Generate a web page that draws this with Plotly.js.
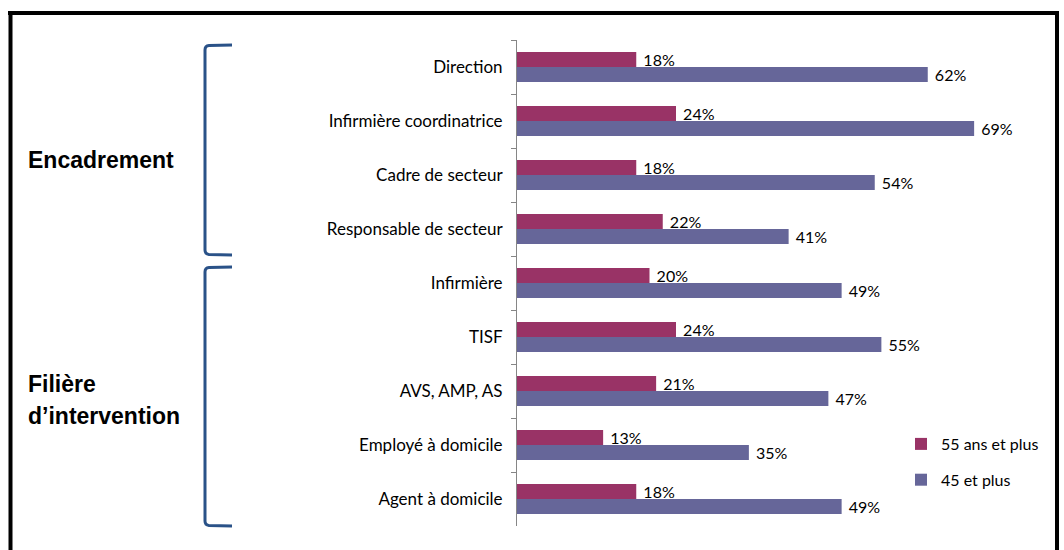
<!DOCTYPE html>
<html>
<head>
<meta charset="utf-8">
<script src="https://cdn.plot.ly/plotly-3.0.1.min.js"></script>
<style>
  html, body { margin: 0; padding: 0; background: #fff; }
  #chart { width: 1064px; height: 550px; }
</style>
</head>
<body>
<div id="chart"></div>
<script>
// ---- data ----
const categories = ['Direction', 'Infirmière coordinatrice', 'Cadre de secteur', 'Responsable de secteur',
  'Infirmière', 'TISF', 'AVS, AMP, AS', 'Employé à domicile', 'Agent à domicile'];
const seriesNames = ['55 ans et plus', '45 et plus'];
const values55 = [18, 24, 18, 22, 20, 24, 21, 13, 18];
const values45 = [62, 69, 54, 41, 49, 55, 47, 35, 49];
const groupLabels = ['Encadrement', 'Filière', 'd’intervention'];

// ---- layout geometry ----
const W = 1064, H = 550;
const M = { l: 517, r: 17, t: 40, b: 24 };
const PW = W - M.l - M.r, PH = H - M.t - M.b;
const px = x => (x - M.l) / PW;
const py = y => 1 - (y - M.t) / PH;

const colors = ['#993366', '#666699'];
const fam = 'Lato, "Open Sans", sans-serif';
const labelFont = { family: fam, size: 16, color: '#000' };
const tickFont = { family: fam, size: 17, color: '#000' };

function bracket(x, x2, y1, y2) {
  const r = 4;
  return `M ${px(x2)} ${py(y1)} L ${px(x + r)} ${py(y1 + 0.6)} Q ${px(x)} ${py(y1 + 1)} ${px(x)} ${py(y1 + r + 1)} ` +
         `L ${px(x)} ${py(y2 - r - 1)} Q ${px(x)} ${py(y2 - 1)} ${px(x + r)} ${py(y2 - 0.6)} L ${px(x2)} ${py(y2)}`;
}

const traces = [values55, values45].map((vals, i) => ({
  type: 'bar',
  orientation: 'h',
  name: seriesNames[i],
  legendgroup: 'g' + i,
  y: categories,
  x: vals,
  marker: { color: colors[i], line: { width: 0 } },
  text: vals.map(v => '\u00a0' + v + '%'),
  textposition: 'outside',
  textfont: labelFont,
  constraintext: 'none',
  cliponaxis: false,
  hoverinfo: 'skip'
}));

const lineStyle = { color: '#000', width: 4 };
const shapes = [
  { type: 'line', xref: 'paper', yref: 'paper', x0: px(8), x1: px(1059), y0: py(13), y1: py(13), line: lineStyle },
  { type: 'line', xref: 'paper', yref: 'paper', x0: px(10.5), x1: px(10.5), y0: py(11), y1: py(552), line: lineStyle },
  { type: 'line', xref: 'paper', yref: 'paper', x0: px(1057), x1: px(1057), y0: py(11), y1: py(552), line: lineStyle },
  { type: 'path', xref: 'paper', yref: 'paper', path: bracket(205, 232, 45, 255), line: { color: '#2a5288', width: 3 } },
  { type: 'path', xref: 'paper', yref: 'paper', path: bracket(205, 232, 267, 526), line: { color: '#2a5288', width: 3 } }
];

const groupFont = { family: '"Liberation Sans", Arial, sans-serif', size: 23, color: '#000', weight: 'bold' };
const annotations = [
  { xref: 'paper', yref: 'paper', x: px(26), y: py(160), xanchor: 'left', yanchor: 'middle', align: 'left',
    text: '<b>' + groupLabels[0] + '</b>', showarrow: false, font: groupFont },
  { xref: 'paper', yref: 'paper', x: px(26), y: py(384), xanchor: 'left', yanchor: 'middle', align: 'left',
    text: '<b>' + groupLabels[1] + '</b>', showarrow: false, font: groupFont },
  { xref: 'paper', yref: 'paper', x: px(26), y: py(416), xanchor: 'left', yanchor: 'middle', align: 'left',
    text: '<b>' + groupLabels[2] + '</b>', showarrow: false, font: groupFont }
];

const layout = {
  width: W, height: H,
  margin: M,
  paper_bgcolor: '#fff', plot_bgcolor: '#fff',
  barmode: 'group', bargap: 0.444, bargroupgap: 0,
  font: labelFont,
  showlegend: true,
  legend: {
    x: px(901), y: py(427), xanchor: 'left', yanchor: 'top',
    traceorder: 'grouped', tracegroupgap: 12,
    font: labelFont, bgcolor: 'rgba(0,0,0,0)'
  },
  xaxis: { range: [0, 80], showgrid: false, zeroline: false, showticklabels: false, showline: false, ticks: '' },
  yaxis: {
    type: 'category', autorange: 'reversed',
    showline: true, linecolor: '#868686', linewidth: 1,
    ticks: 'outside', ticklen: 5, tickcolor: '#868686', tickson: 'boundaries',
    ticklabelstandoff: 10,
    tickfont: tickFont, showgrid: false, zeroline: false
  },
  shapes: shapes,
  annotations: annotations
};

Plotly.newPlot('chart', traces, layout, { displayModeBar: false, staticPlot: true });
</script>
</body>
</html>
